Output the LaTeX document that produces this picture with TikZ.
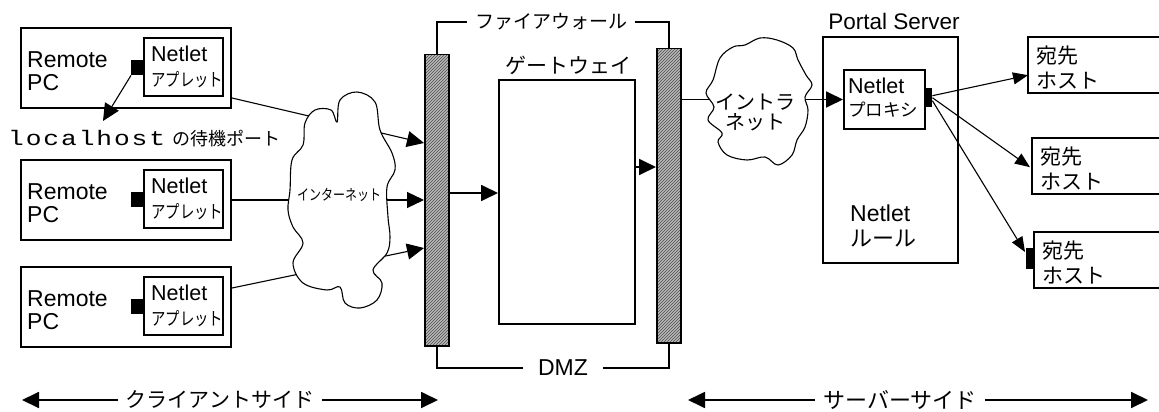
\documentclass[tikz,border=0pt]{standalone}
\usepackage{fontspec}
\setmainfont{Liberation Sans}
\setmonofont[FakeStretch=1.25,LetterSpace=9]{Liberation Mono}
\newfontfamily\jp{Noto Sans CJK JP}
\newfontfamily\jpn[FakeStretch=0.8]{Noto Sans CJK JP}
\usetikzlibrary{arrows.meta,patterns,calc}

\begin{document}
\begin{tikzpicture}[x=1pt,y=-1pt,
  box/.style={draw,line width=2,inner sep=0,anchor=north west},
  noframe/.style={inner sep=0,anchor=north west},
  bar/.style={draw,line width=1.5,inner sep=0,anchor=north west,minimum width=24,
    preaction={fill=gray!55},pattern=north east lines,pattern color=black!70},
  port/.style={fill=black,inner sep=0,anchor=north west},
  twoline/.style={inner sep=0,anchor=west,align=left},
  big/.style={line width=1.8,-{Triangle[length=17pt,width=16pt]}},
  thin/.style={line width=1.1,-{Triangle[length=15pt,width=12pt]}},
  bracket/.style={line width=1.8},
  cloud/.style={draw,line width=1.1,fill=white},
  lat/.style={font=\fontsize{22.5}{22.5}\selectfont},
  jpl/.style={font=\jp\fontsize{21}{21}\selectfont},
]
\useasboundingbox (0,0) rectangle (1159,412);

% ---------------- client side: three remote PCs ----------------
\foreach \i/\t in {1/27,2/159,3/266}{
  \node[box,minimum width=210,minimum height=80] (pc\i) at (20,\t) {};
  \node[box,minimum width=79,minimum height=58] (ap\i) at (143,\t+10) {};
  \node[port,minimum width=12,minimum height=15] (p\i) at (131,\t+33) {};
  \node[twoline,font=\fontsize{23}{22.5}\selectfont] (pct\i) at (27,\t+44) {Remote\\PC};
  \node[twoline,font=\fontsize{21.5}{25}\selectfont] (apt\i) at (151,\t+39.5)
    {Netlet\\{\jpn\fontsize{18}{25}\selectfont アプレット}};
}

% local listening port
\coordinate (lhtip) at (103,121);
\draw[big,line width=1.1] (p1.south west) -- (lhtip);
\node[inner sep=0,anchor=base west] (lhtxt) at (8,145)
  {{\ttfamily\fontsize{21}{21}\selectfont localhost}\hspace{7pt}{\jp\fontsize{18}{18}\selectfont の待機ポート}};

% ---------------- firewalls and gateway ----------------
\node[bar,minimum height=291] (fwL) at (424,54) {};
\node[bar,minimum height=294] (fwR) at (656,48) {};
\node[box,minimum width=136,minimum height=244] (gw) at (498,79) {};
\node[jpl] (gwt) at (568,65) {ゲートウェイ};

\node[font=\jp\fontsize{19}{19}\selectfont,inner xsep=8,inner ysep=0] (fwt) at (551,22) {ファイアウォール};
\draw[bracket] (fwL.north) |- (fwt.west);
\draw[bracket] (fwt.east) -| (fwR.north);

\node[font=\fontsize{23}{23}\selectfont,inner xsep=15,inner ysep=0] (dmz) at (563,368) {DMZ};
\draw[bracket] (fwL.south) |- (dmz.west);
\draw[bracket] (dmz.east) -| (fwR.south);

% ---------------- internet ----------------
\draw[big,line width=1.1] ($(pc1.south east)+(0,-11)$) -- (fwL.west |- 0,143);
\draw[big,line width=1.3] (pc2.east) -- (fwL.west |- pc2.east);
\draw[big,line width=1.1] ($(pc3.north east)+(0,22)$) -- (fwL.west |- 0,248);

\draw[cloud] plot[smooth cycle,tension=0.6] coordinates {
  (303,145) (305,123) (315,110) (331,110) (337,122) (340,100) (357,92)
  (375,102) (380,130) (392,153) (395,170) (387,187) (388,217) (390,237)
  (387,253) (373,270) (382,283) (377,300) (360,308) (345,303) (340,287)
  (327,290) (303,283) (293,263) (303,243) (293,227) (288,210) (290,190)
  (292,160)};
\node[font=\jpn\fontsize{15}{15}\selectfont,inner sep=0] (inet) at (339,195) {インターネット};

% gateway traffic
\draw[big] (fwL.east |- 0,193) -- (gw.west |- 0,193);
\draw[big] (gw.east |- 0,167) -- (fwR.west |- 0,167);

% ---------------- server side ----------------
\node[box,minimum width=135,minimum height=226] (ps) at (822,36) {};
\node[lat,inner sep=0] (pst) at (894,21) {Portal Server};
\node[box,minimum width=81,minimum height=59] (px) at (843,69) {};
\node[port,minimum width=8,minimum height=19] (pport) at (924,88) {};
\node[twoline,font=\fontsize{21.5}{23}\selectfont] (pxt) at (848,97.5)
  {Netlet\\{\jp\fontsize{17.5}{23}\selectfont プロキシ}};
\node[twoline,font=\fontsize{23}{25}\selectfont] (rule) at (850,225.5)
  {Netlet\\{\jp\fontsize{22}{25}\selectfont ルール}};

% intranet
\draw[big] (fwR.east |- px.west) -- (px.west);
\draw[cloud] plot[smooth cycle,tension=0.6] coordinates {
  (713,80) (720,58) (733,47) (745,45) (760,38) (777,40) (793,48) (798,60)
  (806,75) (812,85) (805,97) (808,110) (805,127) (797,140) (792,155)
  (778,165) (765,157) (747,160) (727,155) (718,142) (722,133) (708,120)
  (714,107) (706,93)};
\node[font=\jp\fontsize{20}{20}\selectfont,align=center,inner sep=0] (intra) at (755,112) {イントラ\\ネット};

% destination hosts (running off the right edge)
\foreach \n/\x/\t in {A/1028/37,B/1032/138,C/1034/232}{
  \node[noframe,minimum width=1159-\x,minimum height=56] (d\n) at (\x,\t) {};
  \draw[line width=2] (d\n.north east) -- (d\n.north west) -- (d\n.south west) -- (d\n.south east);
  \node[twoline,font=\jp\fontsize{21}{25}\selectfont] (d\n t) at ($(d\n.west)+(8.5,2.5)$) {宛先\\ホスト};
}
\node[port,minimum width=8,minimum height=21] (cport) at (1026,248) {};

\draw[thin] ($(pport.east)+(0,-2)$) -- ($(dA.west)+(0,10)$);
\draw[thin] (pport.east) -- ($(dB.west)+(-2,1)$);
\draw[thin] ($(pport.east)+(0,3)$) -- ($(cport.north west)+(-1,4)$);

% ---------------- side captions ----------------
\node[font=\jp\fontsize{21}{21}\selectfont,inner xsep=8,inner ysep=0] (cside) at (220,400) {クライアントサイド};
\coordinate (cl) at (22,400);
\coordinate (cr) at (438,400);
\draw[big] (cside.west) -- (cl);
\draw[big] (cside.east) -- (cr);

\node[font=\jp\fontsize{22}{22}\selectfont,inner xsep=8,inner ysep=0] (sside) at (900,400) {サーバーサイド};
\coordinate (sl) at (688,400);
\coordinate (sr) at (1148,400);
\draw[big] (sside.west) -- (sl);
\draw[big] (sside.east) -- (sr);
\end{tikzpicture}
\end{document}
